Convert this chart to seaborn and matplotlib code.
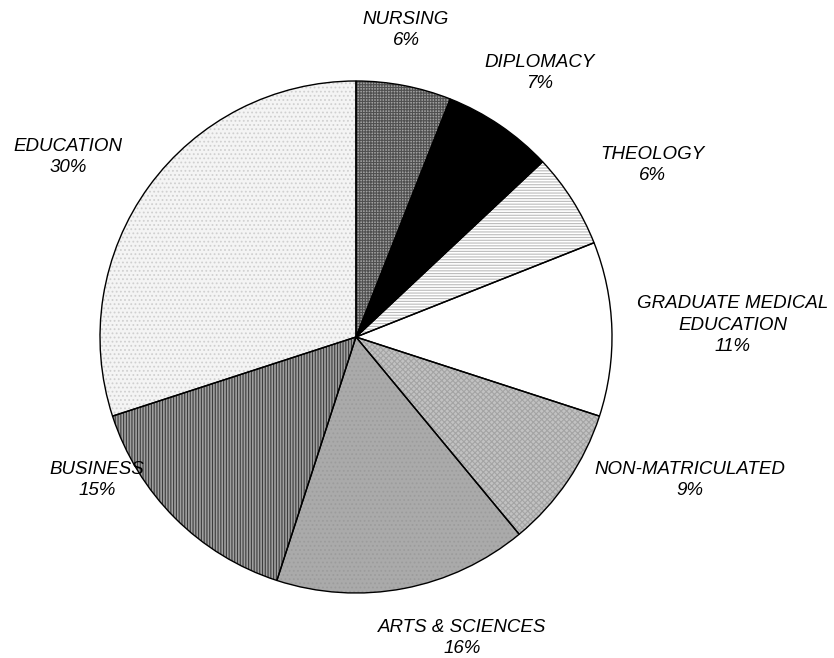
import numpy as np
import seaborn as sns
from matplotlib import pyplot as plt

# 資料
categories = ["NURSING", "DIPLOMACY", "THEOLOGY", "GRADUATE MEDICAL\nEDUCATION",
              "NON-MATRICULATED", "ARTS & SCIENCES", "BUSINESS", "EDUCATION"]
shares = [6, 7, 6, 11, 9, 16, 15, 30]

# 每一塊的底色、花紋與花紋顏色
faces = ["#a0a0a0", "#000000", "#ffffff", "#ffffff", "#c2c2c2", "#aaaaaa", "#a0a0a0", "#f4f4f4"]
hatches = ["++++++", None, "------", None, "xxxxxx", "....", "||||||", "...."]
hatch_cols = ["#505050", "#000000", "#bbbbbb", "#ffffff", "#a4a4a4", "#9c9c9c", "#3c3c3c", "#d0d0d0"]

# 標籤中心位置（像素）
label_px = [(406, 30), (540, 73), (652, 165), (733, 325),
            (690, 480), (462, 638), (97, 480), (68, 157)]

sns.set_style("white")
plt.rcParams['font.family'] = ['Liberation Sans', 'DejaVu Sans']
plt.rcParams['hatch.linewidth'] = 0.8

fig = plt.figure(figsize=(8.34, 6.58), dpi=100)
cx, cy, r = 356, 337, 256
ax = fig.add_axes([(cx - r) / 834, (658 - cy - r) / 658, 2 * r / 834, 2 * r / 658])

# 第一層：底色 + 花紋
wedges, _ = ax.pie(shares, startangle=90, counterclock=False, colors=faces,
                   wedgeprops=dict(linewidth=0))
for w, h, hc in zip(wedges, hatches, hatch_cols):
    if h:
        w.set_hatch(h)
        w.set_edgecolor(hc)
        w.set_linewidth(0)

# 第二層：黑色外框
ax.pie(shares, startangle=90, counterclock=False, colors=["none"] * len(shares),
       wedgeprops=dict(linewidth=1.0, edgecolor="black", fill=False))

for cat, s, (px, py) in zip(categories, shares, label_px):
    ax.text((px - cx) / r, (cy - py) / r, f"{cat}\n{s}%", ha="center", va="center",
            fontsize=13.5, style="italic", linespacing=1.33, color="black")

ax.set_xlim(-1, 1)
ax.set_ylim(-1, 1)
ax.set_aspect("equal")
ax.axis("off")
fig.savefig("out.png", dpi=100)
